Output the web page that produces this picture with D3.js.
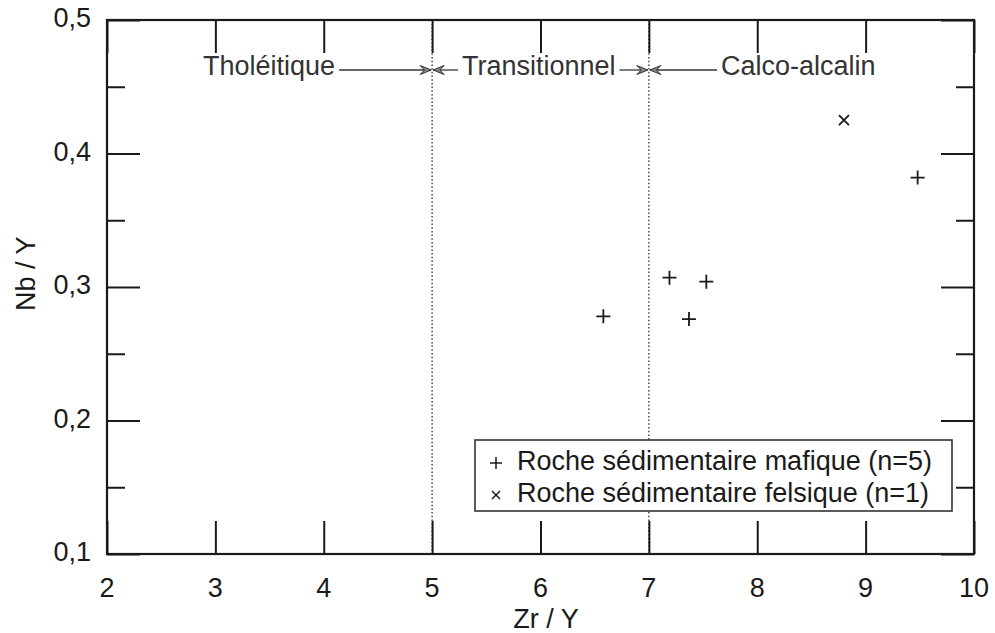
<!DOCTYPE html>
<html>
<head>
<meta charset="utf-8">
<script src="https://cdn.jsdelivr.net/npm/d3@7"></script>
<style>
  html, body { margin: 0; padding: 0; background: #fff; }
  svg { display: block; font-family: "Liberation Sans", Arial, sans-serif; }
</style>
</head>
<body>
<svg id="chart" width="995" height="633"></svg>
<script>
// ---- data ----
const xTicks = [2, 3, 4, 5, 6, 7, 8, 9, 10];
const yTicks = [0.1, 0.2, 0.3, 0.4, 0.5];
const yMinorTicks = [0.15, 0.25, 0.35, 0.45];
const maficX = [6.58, 7.19, 7.53, 7.37, 9.48];
const maficY = [0.278, 0.307, 0.304, 0.276, 0.382];
const felsicX = [8.80];
const felsicY = [0.425];
const boundaries = [5, 7];
const fieldLabels = ["Tholéitique", "Transitionnel", "Calco-alcalin"];
const legendLabels = ["Roche sédimentaire mafique (n=5)", "Roche sédimentaire felsique (n=1)"];
const xTitle = "Zr / Y";
const yTitle = "Nb / Y";

// ---- layout ----
const svg = d3.select("#chart");
const L = 107, R = 974, T = 20, B = 554;
const x = d3.scaleLinear().domain([2, 10]).range([L, R]);
const y = d3.scaleLinear().domain([0.1, 0.5]).range([B, T]);
const fs = 27;
const ink = "#1a1a1a";

// dotted boundaries
svg.selectAll("line.bnd").data(boundaries).enter().append("line")
  .attr("x1", d => x(d)).attr("x2", d => x(d))
  .attr("y1", T).attr("y2", B)
  .attr("stroke", "#555").attr("stroke-width", 1.6)
  .attr("stroke-dasharray", "1.5,2.2");

// axes with inward ticks
const majorLen = 33, minorLen = 18;
const gAx = svg.append("g").attr("stroke", ink).attr("fill", "none");
// bottom
svg.append("g").attr("transform", `translate(0,${B})`)
  .call(d3.axisTop(x).tickValues(xTicks).tickSize(majorLen).tickFormat(""))
  .call(g => g.select(".domain").remove());
// top
svg.append("g").attr("transform", `translate(0,${T})`)
  .call(d3.axisBottom(x).tickValues(xTicks).tickSize(majorLen).tickFormat(""))
  .call(g => g.select(".domain").remove());
// left
svg.append("g").attr("transform", `translate(${L},0)`)
  .call(d3.axisRight(y).tickValues(yTicks).tickSize(majorLen).tickFormat(""))
  .call(g => g.select(".domain").remove());
svg.append("g").attr("transform", `translate(${L},0)`)
  .call(d3.axisRight(y).tickValues(yMinorTicks).tickSize(minorLen).tickFormat(""))
  .call(g => g.select(".domain").remove());
// right
svg.append("g").attr("transform", `translate(${R},0)`)
  .call(d3.axisLeft(y).tickValues(yTicks).tickSize(majorLen).tickFormat(""))
  .call(g => g.select(".domain").remove());
svg.append("g").attr("transform", `translate(${R},0)`)
  .call(d3.axisLeft(y).tickValues(yMinorTicks).tickSize(minorLen).tickFormat(""))
  .call(g => g.select(".domain").remove());
svg.selectAll(".tick line").attr("stroke", ink).attr("stroke-width", 2);

// frame
svg.append("rect").attr("x", L).attr("y", T).attr("width", R - L).attr("height", B - T)
  .attr("fill", "none").attr("stroke", ink).attr("stroke-width", 2.2);

// tick labels
svg.selectAll("text.xl").data(xTicks).enter().append("text")
  .attr("x", d => x(d)).attr("y", B + 36)
  .attr("text-anchor", "middle").attr("dominant-baseline", "middle")
  .attr("font-size", fs).attr("fill", ink).text(d => d);
svg.selectAll("text.yl").data(yTicks).enter().append("text")
  .attr("x", L - 16).attr("y", d => y(d))
  .attr("text-anchor", "end").attr("dominant-baseline", "middle")
  .attr("font-size", fs).attr("fill", ink)
  .text(d => d3.format(".1f")(d).replace(".", ","));

// axis titles
svg.append("text").attr("x", x(6.05)).attr("y", 621)
  .attr("text-anchor", "middle").attr("dominant-baseline", "middle")
  .attr("font-size", fs).attr("fill", ink).text(xTitle);
svg.append("text").attr("transform", `translate(28,${y(0.31)}) rotate(-90)`)
  .attr("text-anchor", "middle").attr("dominant-baseline", "middle")
  .attr("font-size", fs).attr("fill", ink).text(yTitle);

// field labels with arrows
const labY = 68;
const labels = [
  { t: fieldLabels[0], x: 203, anchor: "start" },
  { t: fieldLabels[1], x: 462, anchor: "start" },
  { t: fieldLabels[2], x: 721, anchor: "start" }
];
const textNodes = svg.selectAll("text.fl").data(labels).enter().append("text")
  .attr("x", d => d.x).attr("y", labY)
  .attr("dominant-baseline", "middle")
  .attr("font-size", fs).attr("fill", "#333").text(d => d.t);
const widths = textNodes.nodes().map(n => n.getComputedTextLength());
const arrowY = labY + 2;
function arrowSeg(x1, x2, headAtEnd) {
  svg.append("line").attr("x1", x1).attr("x2", x2).attr("y1", arrowY).attr("y2", arrowY)
    .attr("stroke", "#333").attr("stroke-width", 1.3);
}
function head(xt, dir) { // dir: +1 pointing right, -1 pointing left
  const w = 11, h = 4.5;
  svg.append("path")
    .attr("d", `M${xt},${arrowY} L${xt - dir * w},${arrowY - h} L${xt - dir * w * 0.6},${arrowY} L${xt - dir * w},${arrowY + h} Z`)
    .attr("fill", "#888").attr("stroke", "#333").attr("stroke-width", 1);
}
const gap = 4;
// Tholéitique -> 5
arrowSeg(labels[0].x + widths[0] + gap, x(5) - 1);
head(x(5) - 1, 1);
// 5 <- Transitionnel
arrowSeg(x(5) + 1, labels[1].x - gap);
head(x(5) + 1, -1);
// Transitionnel -> 7
arrowSeg(labels[1].x + widths[1] + gap, x(7) - 1);
head(x(7) - 1, 1);
// 7 <- Calco-alcalin
arrowSeg(x(7) + 1, labels[2].x - gap);
head(x(7) + 1, -1);

// markers
function plus(s) { return `M${-s},0 H${s} M0,${-s} V${s}`; }
function cross(s) { return `M${-s},${-s} L${s},${s} M${-s},${s} L${s},${-s}`; }
const mafic = maficX.map((v, i) => ({ x: v, y: maficY[i] }));
const felsic = felsicX.map((v, i) => ({ x: v, y: felsicY[i] }));
svg.selectAll("path.maf").data(mafic).enter().append("path")
  .attr("transform", d => `translate(${x(d.x)},${y(d.y)})`)
  .attr("d", plus(7)).attr("stroke", ink).attr("stroke-width", 1.8).attr("fill", "none");
svg.selectAll("path.fel").data(felsic).enter().append("path")
  .attr("transform", d => `translate(${x(d.x)},${y(d.y)})`)
  .attr("d", cross(5)).attr("stroke", ink).attr("stroke-width", 1.8).attr("fill", "none");

// legend
const lgX = 475, lgY = 440, lgW = 477, lgH = 71;
svg.append("rect").attr("x", lgX).attr("y", lgY).attr("width", lgW).attr("height", lgH)
  .attr("fill", "#fff").attr("stroke", "#333").attr("stroke-width", 1.6);
const rows = [lgY + 23, lgY + 55];
svg.append("path").attr("transform", `translate(${lgX + 21},${rows[0]})`)
  .attr("d", plus(6)).attr("stroke", ink).attr("stroke-width", 1.5);
svg.append("path").attr("transform", `translate(${lgX + 21},${rows[1]})`)
  .attr("d", cross(4)).attr("stroke", ink).attr("stroke-width", 1.5);
svg.selectAll("text.lg").data(legendLabels).enter().append("text")
  .attr("x", lgX + 42).attr("y", (d, i) => rows[i])
  .attr("dominant-baseline", "middle")
  .attr("font-size", fs).attr("fill", ink).text(d => d);
</script>
</body>
</html>
